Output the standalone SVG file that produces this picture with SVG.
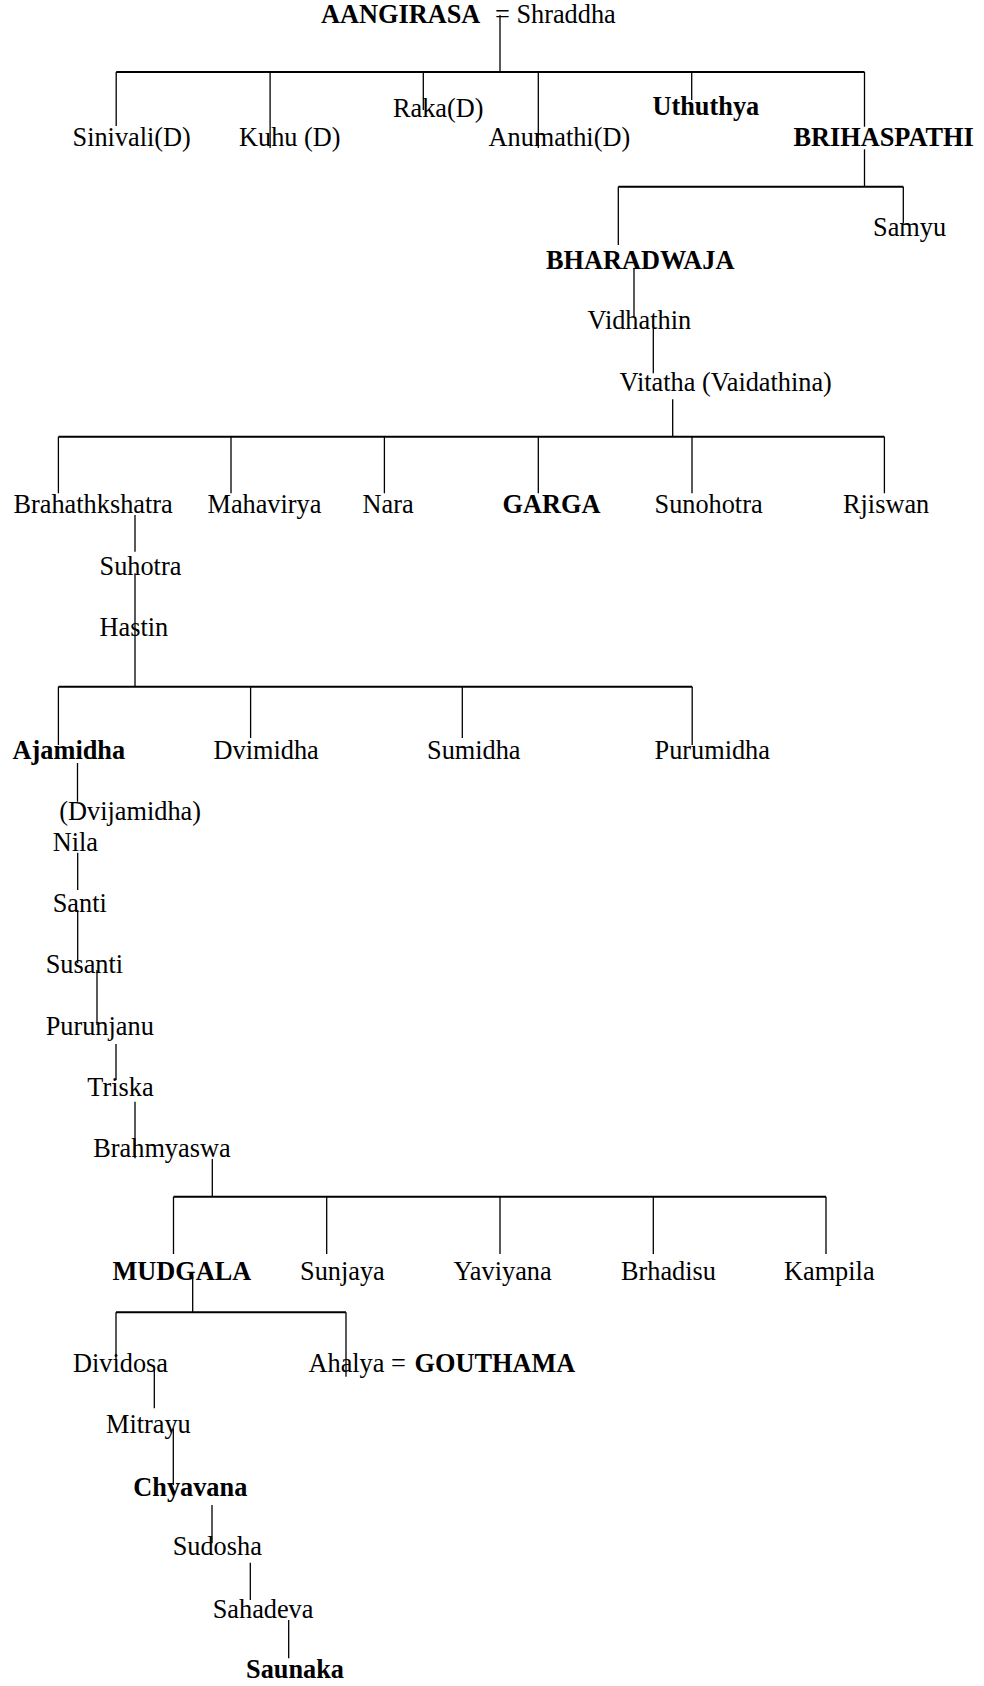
<svg xmlns="http://www.w3.org/2000/svg" width="984" height="1686" viewBox="0 0 984 1686">
<style>
text{font-family:"Liberation Serif","Times New Roman",serif;font-size:26.3px;fill:#000}
.b{font-weight:bold}
.v{stroke:#000;stroke-width:1.3;fill:none}
.h{stroke:#000;stroke-width:2;fill:none}
</style>
<rect width="984" height="1686" fill="#fff"/>
<g id="connectors">
<path class="v" d="M500 15V72 M116.2 72V126 M270.1 72V148 M423.3 72V110 M538.3 72V148 M691.7 72V100 M864.5 72V126.7 M864.5 149.3V186.7 M618.3 186.7V245 M903.3 186.7V223.3 M634 268V316 M653.3 325V373.3 M672.7 399.3V436.7 M58.4 436.7V493.3 M231 436.7V493.3 M384.4 436.7V493.3 M538.3 436.7V493.3 M692 436.7V493.3 M884.4 436.7V493.3 M135 515V551.7 M135 573.3V686.7 M58.4 686.7V745 M250.6 686.7V738 M462.3 686.7V738 M692.2 686.7V745 M77.5 763V801.7 M77.7 852.7V890 M77.7 910V963.3 M97 970V1025 M116 1044V1080 M135 1101.7V1158.3 M212.3 1159V1196.7 M173.5 1196.7V1254 M326.7 1196.7V1254 M500 1196.7V1254 M653.3 1196.7V1254 M826 1196.7V1254 M192.7 1276.7V1312.3 M116 1312.3V1360 M346 1312.3V1376.7 M154.3 1368.3V1408.3 M173.3 1428.3V1485 M212 1505V1543.3 M250.3 1562.7V1600 M288.7 1620V1658.3"/>
<path class="h" d="M116.2 72H864.5 M618.3 186.7H903.3 M58.4 436.7H884.4 M58.4 686.7H692.2 M173.5 1196.7H826 M116 1312.3H346"/>
</g>
<g id="n-aangirasa"><text y="23"><tspan class="b" x="321">AANGIRASA</tspan><tspan x="495">= Shraddha</tspan></text></g>
<g id="n-sinivali"><text x="72.5" y="146">Sinivali(D)</text></g>
<g id="n-kuhu"><text x="239" y="146">Kuhu (D)</text></g>
<g id="n-raka"><text x="393" y="117">Raka(D)</text></g>
<g id="n-anumathi"><text x="488.5" y="146">Anumathi(D)</text></g>
<g id="n-uthuthya"><text class="b" x="652.5" y="115">Uthuthya</text></g>
<g id="n-brihaspathi"><text class="b" x="793.5" y="145.5">BRIHASPATHI</text></g>
<g id="n-samyu"><text x="873" y="236">Samyu</text></g>
<g id="n-bharadwaja"><text class="b" x="546" y="268.5">BHARADWAJA</text></g>
<g id="n-vidhathin"><text x="587.5" y="328.5">Vidhathin</text></g>
<g id="n-vitatha"><text x="619.5" y="390.5">Vitatha (Vaidathina)</text></g>
<g id="n-brahathkshatra"><text x="13.5" y="512.5">Brahathkshatra</text></g>
<g id="n-mahavirya"><text x="207.5" y="512.5">Mahavirya</text></g>
<g id="n-nara"><text x="362.5" y="512.5">Nara</text></g>
<g id="n-garga"><text class="b" x="502.5" y="512.5">GARGA</text></g>
<g id="n-sunohotra"><text x="654.5" y="512.5">Sunohotra</text></g>
<g id="n-rjiswan"><text x="843" y="512.5">Rjiswan</text></g>
<g id="n-suhotra"><text x="99.5" y="575">Suhotra</text></g>
<g id="n-hastin"><text x="99.5" y="636">Hastin</text></g>
<g id="n-ajamidha"><text class="b" x="12.6" y="758.5">Ajamidha</text><text x="59.3" y="820">(Dvijamidha)</text></g>
<g id="n-dvimidha"><text x="213.6" y="758.5">Dvimidha</text></g>
<g id="n-sumidha"><text x="427" y="758.5">Sumidha</text></g>
<g id="n-purumidha"><text x="654.5" y="758.5">Purumidha</text></g>
<g id="n-nila"><text x="52.7" y="850.7">Nila</text></g>
<g id="n-santi"><text x="52.7" y="912.3">Santi</text></g>
<g id="n-susanti"><text x="45.7" y="973.3">Susanti</text></g>
<g id="n-purunjanu"><text x="45.7" y="1035">Purunjanu</text></g>
<g id="n-triska"><text x="87.3" y="1095.7">Triska</text></g>
<g id="n-brahmyaswa"><text x="93.3" y="1157.3">Brahmyaswa</text></g>
<g id="n-mudgala"><text class="b" x="112.5" y="1280">MUDGALA</text></g>
<g id="n-sunjaya"><text x="300" y="1280">Sunjaya</text></g>
<g id="n-yaviyana"><text x="453.5" y="1280">Yaviyana</text></g>
<g id="n-brhadisu"><text x="621" y="1280">Brhadisu</text></g>
<g id="n-kampila"><text x="784" y="1280">Kampila</text></g>
<g id="n-dividosa"><text x="73" y="1371.7">Dividosa</text></g>
<g id="n-ahalya"><text y="1371.7"><tspan x="308.5">Ahalya = </tspan><tspan class="b" x="414.6">GOUTHAMA</tspan></text></g>
<g id="n-mitrayu"><text x="106" y="1433.3">Mitrayu</text></g>
<g id="n-chyavana"><text class="b" x="133.3" y="1496">Chyavana</text></g>
<g id="n-sudosha"><text x="172.7" y="1555.3">Sudosha</text></g>
<g id="n-sahadeva"><text x="212.7" y="1618.3">Sahadeva</text></g>
<g id="n-saunaka"><text class="b" x="246" y="1678.3">Saunaka</text></g>
</svg>
